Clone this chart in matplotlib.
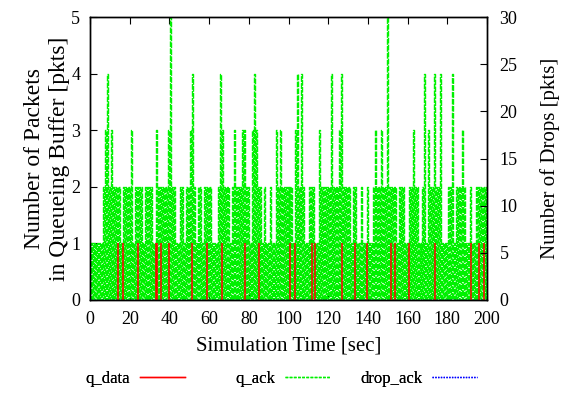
import numpy as np
import matplotlib
matplotlib.use("Agg")
import matplotlib.pyplot as plt
from matplotlib.lines import Line2D

plt.rcParams['font.family'] = ['Liberation Serif', 'DejaVu Serif']

# q_ack: maximum queue level in each 1-second slot (t = 0..199)
q_ack_levels = (
    "11111123423222212222"
    "31222212222113222223"
    "52211221223421221222"
    "21112432221232223322"
    "13432212112113232222"
    "22134242112221132222"
    "24222342222122112112"
    "11232232252222122211"
    "22322112413224224111"
    "22412223211211222222"
)

# q_data: times [s] where the data queue holds one packet
q_data_times = [14.0, 16.6, 24.4, 33.5, 34.0, 35.8, 40.0, 51.3, 58.8, 66.5,
                78.3, 85.2, 100.7, 103.2, 111.6, 113.5, 126.9, 133.5, 139.4,
                151.6, 153.9, 160.6, 173.6, 192.0, 196.1, 198.4]
q_data_values = [1] * len(q_data_times)

# drop_ack: cumulative drops (none visible)
drop_times = [0, 200]
drop_values = [0, 0]

x_ticks = [0, 20, 40, 60, 80, 100, 120, 140, 160, 180, 200]
y_ticks = [0, 1, 2, 3, 4, 5]
y2_ticks = [0, 5, 10, 15, 20, 25, 30]

GREEN = '#00f000'
fig = plt.figure(figsize=(5.63, 3.94), dpi=100)
ax = fig.add_axes([90/563, 1-300/394, 397/563, 283/394])

# build q_ack series: in each second the queue empties then reaches its max
t_ack = []
v_ack = []
for i, ch in enumerate(q_ack_levels):
    t_ack += [i, i + 0.5]
    v_ack += [0, int(ch)]
t_ack.append(len(q_ack_levels))
v_ack.append(0)

ax.step(t_ack, v_ack, where='post', color=GREEN, lw=1.0,
        linestyle=(0, (4, 1)), zorder=2)
ax.vlines(q_data_times, 0, q_data_values, color='#ff0000', lw=1.1, zorder=3)

ax.set_xlim(0, 200)
ax.set_ylim(0, 5)
ax.set_xticks(x_ticks)
ax.set_yticks(y_ticks)
ax.tick_params(axis='x', direction='in', length=5, width=0.8, labelsize=13, top=True, pad=8)
ax.tick_params(axis='y', direction='in', length=5, width=0.8, labelsize=13, right=False, pad=7)

ax2 = ax.twinx()
ax2.plot(drop_times, drop_values, color='#0000ff', lw=1.0, linestyle=':', zorder=4)
ax2.set_ylim(0, 30)
ax2.set_yticks(y2_ticks)
ax2.tick_params(direction='in', length=5, width=0.8, labelsize=13, pad=9)

for a in (ax, ax2):
    for s in a.spines.values():
        s.set_linewidth(1.0)

ax.set_xlabel('Simulation Time [sec]', fontsize=15, labelpad=6)
ax.set_ylabel('Number of Packets\nin Queueing Buffer [pkts]', fontsize=17, labelpad=1, linespacing=1.25)
ax2.set_ylabel('Number of Drops [pkts]', fontsize=15, labelpad=16)

entries = [
    (Line2D([], [], color='#ff0000', lw=1.0), 'q_data', 185),
    (Line2D([], [], color=GREEN, lw=1.0, linestyle=(0, (2, 1))), 'q_ack', 330),
    (Line2D([], [], color='#0000ff', lw=1.0, linestyle=(0, (1, 1))), 'drop_ack', 477),
]
for h, lab, xr in entries:
    lg = fig.legend([h], [lab], loc='center right', bbox_to_anchor=(xr/563, 15/394),
                    frameon=False, markerfirst=False, fontsize=12, handlelength=2.7,
                    handletextpad=0.6, borderpad=0, borderaxespad=0)
    fig.add_artist(lg)

fig.savefig('out.png', dpi=100)
